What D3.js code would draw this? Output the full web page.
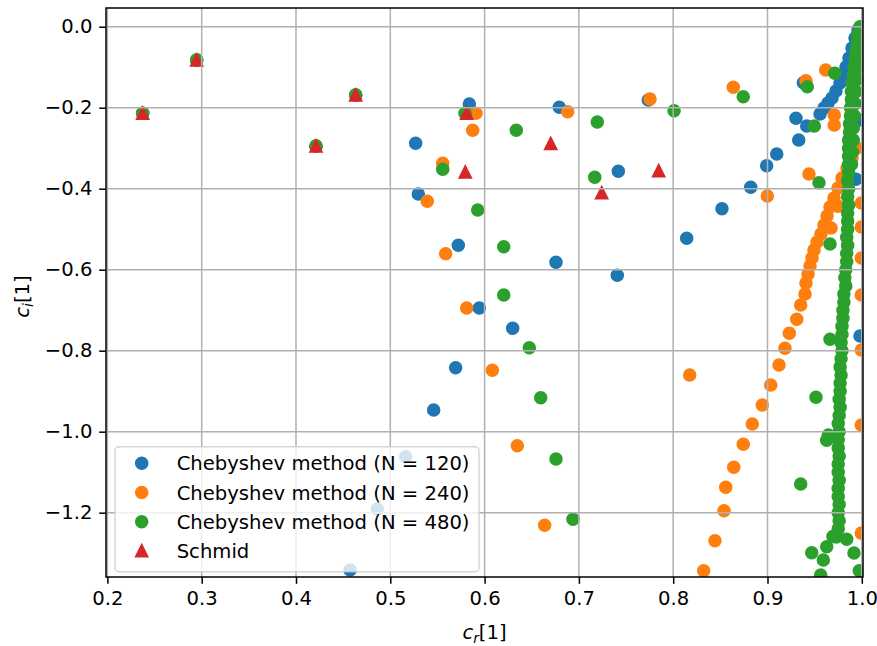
<!DOCTYPE html>
<html>
<head>
<meta charset="utf-8">
<script src="https://cdn.jsdelivr.net/npm/d3@7"></script>
<style>
  html, body { margin: 0; padding: 0; background: #ffffff; }
  svg { display: block; font-family: "DejaVu Sans", sans-serif; }
</style>
</head>
<body>
<svg id="chart" width="877" height="646"></svg>
<script>
// Eigenvalue spectrum c = c_r + i c_i for three Chebyshev resolutions and the reference (Schmid) values.

const seriesNames = [
  "Chebyshev method (N = 120)",
  "Chebyshev method (N = 240)",
  "Chebyshev method (N = 480)",
  "Schmid"
];
const seriesColors = ["#1f77b4", "#ff7f0e", "#2ca02c", "#d62728"];

const xTicks = [0.2, 0.3, 0.4, 0.5, 0.6, 0.7, 0.8, 0.9, 1.0];
const yTicks = [0.0, -0.2, -0.4, -0.6, -0.8, -1.0, -1.2];

// N = 120
const cheb120 = [
  [0.2374, -0.2138], [0.2947, -0.0822], [0.4212, -0.2946], [0.4633, -0.1686],
  [0.5838, -0.1909], [0.5269, -0.2879], [0.5297, -0.4131], [0.5721, -0.5398],
  [0.5944, -0.6946], [0.6298, -0.7447], [0.5693, -0.8420], [0.5460, -0.9464],
  [0.5163, -1.0617], [0.4862, -1.1909], [0.4573, -1.3415], [0.6792, -0.1990],
  [0.6757, -0.5817], [0.7407, -0.6138], [0.7418, -0.3570], [0.7736, -0.1810],
  [0.8143, -0.5225], [0.8517, -0.4494], [0.8822, -0.3965], [0.8991, -0.3432],
  [0.9098, -0.3143], [0.9331, -0.2798], [0.9302, -0.2262], [0.9416, -0.2452],
  [0.9380, -0.1383],
  [0.9557, -0.2156], [0.9599, -0.2007], [0.9641, -0.1884], [0.9684, -0.1760],
  [0.9726, -0.1588], [0.9769, -0.1390], [0.9801, -0.1193], [0.9832, -0.0995],
  [0.9864, -0.0773], [0.9896, -0.0526], [0.9928, -0.0279], [0.9959, -0.0081],
  [0.9999, -0.2304], [0.9938, -0.3768], [0.9981, -0.7637]
];

// N = 240
const cheb240 = [
  [0.2374, -0.2138], [0.2947, -0.0822], [0.4212, -0.2946], [0.4633, -0.1686],
  [0.5909, -0.2138], [0.5874, -0.2558], [0.5556, -0.3373], [0.5392, -0.4311],
  [0.5587, -0.5605], [0.5810, -0.6946], [0.6082, -0.8484], [0.6347, -1.0346],
  [0.6637, -1.2311], [0.6881, -0.2099], [0.7754, -0.1785], [0.8175, -0.8600],
  [0.8443, -1.2691], [0.8323, -1.3432], [0.8637, -0.1496], [0.9617, -0.1069],
  [0.9408, -0.1333], [0.9708, -0.2180], [0.9708, -0.2427], [0.9440, -0.3637],
  [0.8998, -0.4180],
  [0.9949, -0.2995], [0.9896, -0.3242], [0.9843, -0.3489], [0.9790, -0.3736],
  [0.9748, -0.3983], [0.9705, -0.4230], [0.9663, -0.4452], [0.9631, -0.4674],
  [0.9599, -0.4896], [0.9567, -0.5119], [0.9525, -0.5316], [0.9493, -0.5514],
  [0.9472, -0.5711], [0.9451, -0.5909], [0.9430, -0.6106], [0.9408, -0.6328],
  [0.9398, -0.6600], [0.9352, -0.6872], [0.9310, -0.7225], [0.9231, -0.7570],
  [0.9185, -0.7941], [0.9122, -0.8353], [0.9034, -0.8847], [0.8945, -0.9341],
  [0.8839, -0.9810], [0.8743, -1.0311], [0.8642, -1.0879], [0.8557, -1.1373],
  [0.8539, -1.1951],
  [0.9748, -0.4432], [0.9674, -0.4970],
  [0.9995, -0.4353], [0.9995, -0.4946], [0.9995, -0.5711], [0.9995, -0.6625],
  [0.9995, -0.7983], [0.9995, -0.9835], [0.9995, -1.2504]
];

// N = 480
const cheb480 = [
  [0.2374, -0.2138], [0.2947, -0.0822], [0.4212, -0.2946], [0.4633, -0.1686],
  [0.5792, -0.2138], [0.6336, -0.2558], [0.7195, -0.2351], [0.8009, -0.2074],
  [0.5556, -0.3521], [0.7168, -0.3719], [0.5927, -0.4526], [0.6203, -0.5432],
  [0.6203, -0.6625], [0.6474, -0.7926], [0.6595, -0.9160], [0.6757, -1.0674],
  [0.6937, -1.2163], [0.8743, -0.1728], [0.9713, -0.1151], [0.9422, -0.1481],
  [0.9496, -0.2452], [0.9546, -0.3852], [0.9663, -0.5365], [0.9663, -0.7719],
  [0.9514, -0.9151], [0.9352, -1.1291], [0.9469, -1.2988], [0.9840, -1.2657],
  [0.9917, -1.2995], [0.9973, -1.3432],
  // near-vertical branch
  [0.998, 0.000], [0.996, -0.020], [0.995, -0.040], [0.994, -0.060], [0.993, -0.080],
  [0.992, -0.100], [0.991, -0.120], [0.990, -0.140], [0.989, -0.160], [0.989, -0.180],
  [0.988, -0.200], [0.988, -0.220], [0.987, -0.240], [0.987, -0.260], [0.986, -0.280],
  [0.986, -0.300], [0.986, -0.320], [0.986, -0.340], [0.986, -0.360], [0.985, -0.380],
  [0.986, -0.400], [0.985, -0.420], [0.986, -0.440], [0.985, -0.460], [0.985, -0.480],
  [0.985, -0.500], [0.984, -0.520], [0.985, -0.540], [0.984, -0.560], [0.984, -0.580],
  [0.983, -0.600], [0.982, -0.620], [0.983, -0.640], [0.981, -0.660], [0.981, -0.680],
  [0.980, -0.700], [0.980, -0.720], [0.979, -0.740], [0.979, -0.760], [0.978, -0.780],
  [0.979, -0.800], [0.978, -0.820], [0.977, -0.840], [0.978, -0.860], [0.977, -0.880],
  [0.977, -0.900], [0.976, -0.920], [0.977, -0.940], [0.976, -0.960], [0.975, -0.980],
  [0.976, -1.000], [0.975, -1.020], [0.975, -1.040], [0.976, -1.060], [0.975, -1.080],
  [0.975, -1.100], [0.976, -1.120], [0.975, -1.140], [0.975, -1.160], [0.976, -1.180],
  [0.975, -1.200], [0.976, -1.220], [0.975, -1.240], [0.973, -1.260],
  [0.9645, -1.008], [0.9628, -1.021],
  [0.9694, -1.259], [0.9628, -1.284], [0.9592, -1.317], [0.9564, -1.354],
  // right-hand edge of the branch near the top
  [0.999, -0.010], [0.998, -0.040], [0.997, -0.070], [0.996, -0.100], [0.995, -0.130],
  [0.994, -0.160], [0.993, -0.190], [0.992, -0.220], [0.991, -0.250], [0.991, -0.280],
  [0.990, -0.310], [0.989, -0.340]
];

// Schmid reference eigenvalues
const schmid = [
  [0.2374, -0.2138], [0.2947, -0.0822], [0.4212, -0.2946], [0.4633, -0.1686],
  [0.5810, -0.2138], [0.6701, -0.2884], [0.5795, -0.3587], [0.7242, -0.4099],
  [0.7846, -0.3557]
];

(function () {
  const svg = d3.select("#chart");
  const W = 877, H = 646;
  const pL = 106, pR = 863, pT = 8, pB = 577;
  const fs = 19.6;

  const x = d3.scaleLinear().domain([0.19852, 1.00127]).range([pL, pR]);
  const y = d3.scaleLinear().domain([-1.3588, 0.0462]).range([pB, pT]);

  svg.append("rect").attr("width", W).attr("height", H).attr("fill", "#ffffff");

  svg.append("defs").append("clipPath").attr("id", "plotclip")
    .append("rect").attr("x", pL).attr("y", pT)
    .attr("width", pR - pL).attr("height", pB - pT);

  const plot = svg.append("g").attr("clip-path", "url(#plotclip)");

  const r = 5.8, sw = 1.93;
  const tri = (cx, cy, s) => `M${cx},${cy - s}L${cx - s},${cy + s}L${cx + s},${cy + s}Z`;

  [cheb120, cheb240, cheb480].forEach((data, i) => {
    plot.append("g").selectAll("circle").data(data).join("circle")
      .attr("cx", d => x(d[0])).attr("cy", d => y(d[1])).attr("r", r)
      .attr("fill", seriesColors[i]).attr("stroke", seriesColors[i]).attr("stroke-width", sw);
  });
  plot.append("g").selectAll("path").data(schmid).join("path")
    .attr("d", d => tri(x(d[0]), y(d[1]), r))
    .attr("fill", seriesColors[3]).attr("stroke", seriesColors[3])
    .attr("stroke-width", sw).attr("stroke-linejoin", "miter");

  // grid lines drawn above the markers
  const grid = svg.append("g").attr("stroke", "#b0b0b0").attr("stroke-width", 1.5);
  xTicks.forEach(t => grid.append("line")
    .attr("x1", x(t)).attr("x2", x(t)).attr("y1", pT).attr("y2", pB));
  yTicks.forEach(t => grid.append("line")
    .attr("x1", pL).attr("x2", pR).attr("y1", y(t)).attr("y2", y(t)));

  // axes
  const fmtY = d => d === 0 ? "0.0" : "\u2212" + Math.abs(d).toFixed(1);
  const xAxis = svg.append("g").attr("transform", `translate(0,${pB})`)
    .call(d3.axisBottom(x).tickValues(xTicks).tickFormat(d3.format(".1f"))
      .tickSize(6.8).tickPadding(6.8));
  const yAxis = svg.append("g").attr("transform", `translate(${pL},0)`)
    .call(d3.axisLeft(y).tickValues(yTicks).tickFormat(fmtY)
      .tickSize(6.8).tickPadding(6.8));
  [xAxis, yAxis].forEach(a => {
    a.select(".domain").remove();
    a.selectAll(".tick line").attr("stroke", "#000").attr("stroke-width", 1.5);
    a.selectAll(".tick text").attr("fill", "#000")
      .style("font-family", "'DejaVu Sans', sans-serif").style("font-size", fs + "px");
  });

  svg.append("rect").attr("x", pL).attr("y", pT)
    .attr("width", pR - pL).attr("height", pB - pT)
    .attr("fill", "none").attr("stroke", "#000").attr("stroke-width", 1.5);

  // axis labels
  const xl = svg.append("text").attr("x", (pL + pR) / 2).attr("y", 639)
    .attr("text-anchor", "middle").style("font-size", fs + "px");
  xl.append("tspan").attr("font-style", "italic").text("c");
  xl.append("tspan").attr("font-style", "italic").attr("font-size", "70%").attr("dy", 4).text("r");
  xl.append("tspan").attr("dy", -4).text("[1]");

  const yl = svg.append("text")
    .attr("transform", `translate(29,${(pT + pB) / 2 + 4}) rotate(-90)`)
    .attr("text-anchor", "middle").style("font-size", fs + "px");
  yl.append("tspan").attr("font-style", "italic").text("c");
  yl.append("tspan").attr("font-style", "italic").attr("font-size", "70%").attr("dy", 4).text("i");
  yl.append("tspan").attr("dy", -4).text("[1]");

  // legend
  const lg = svg.append("g");
  lg.append("rect").attr("x", 115).attr("y", 446.7).attr("width", 364).attr("height", 125)
    .attr("rx", 4).attr("fill", "rgba(255,255,255,0.8)")
    .attr("stroke", "rgba(204,204,204,0.8)").attr("stroke-width", 1.5);
  const rowY = [463.3, 492.5, 521.7, 550.8];
  seriesNames.forEach((name, i) => {
    if (i < 3) {
      lg.append("circle").attr("cx", 141.7).attr("cy", rowY[i]).attr("r", r)
        .attr("fill", seriesColors[i]).attr("stroke", seriesColors[i]).attr("stroke-width", sw);
    } else {
      lg.append("path").attr("d", tri(141.7, rowY[i], r))
        .attr("fill", seriesColors[i]).attr("stroke", seriesColors[i]).attr("stroke-width", sw);
    }
    lg.append("text").attr("x", 176.7).attr("y", rowY[i]).attr("dy", "0.36em")
      .style("font-size", fs + "px").attr("fill", "#000").text(name);
  });
})();
</script>
</body>
</html>
